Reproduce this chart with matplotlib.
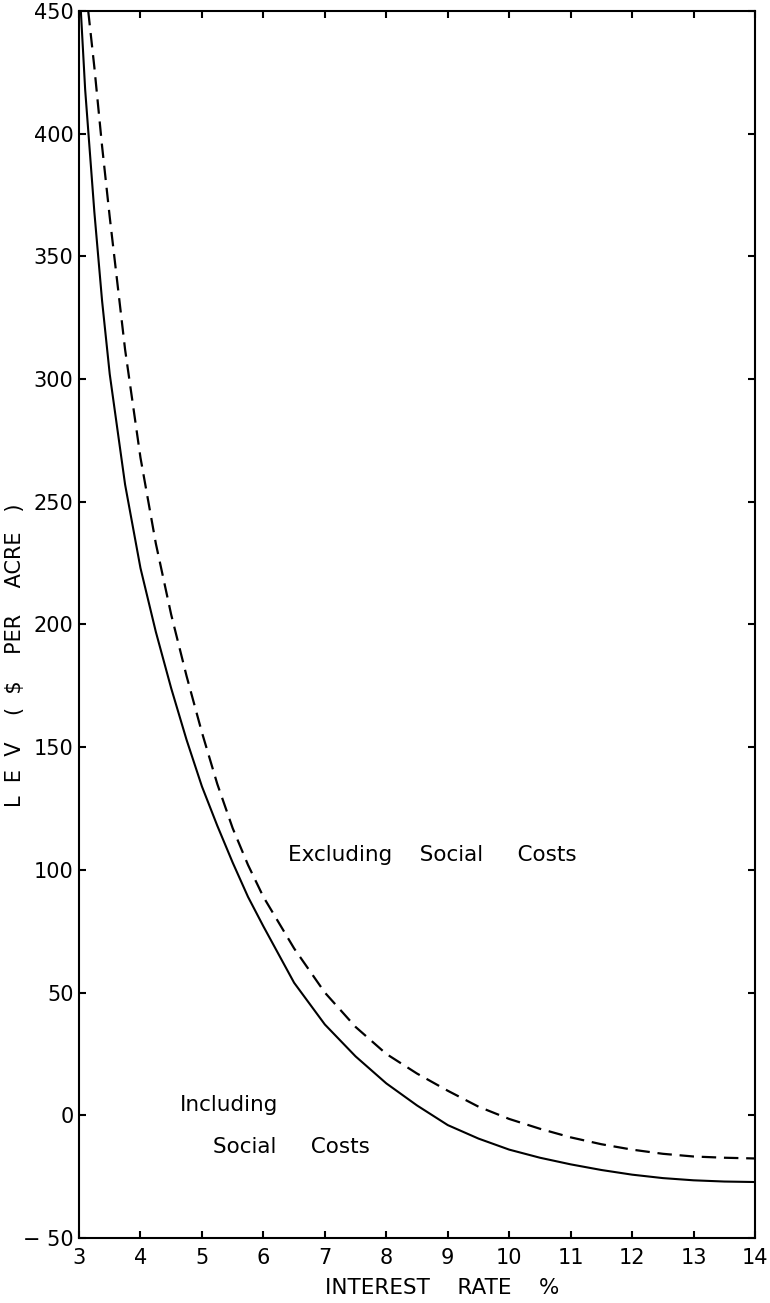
import matplotlib
matplotlib.use("Agg")
import matplotlib.pyplot as plt

plt.rcParams['font.family'] = ['DejaVu Sans']

# interest rate (%) vs land expectation value ($ per acre)
rate_incl = [3.03, 3.1, 3.25, 3.375, 3.5, 3.75, 4.0, 4.25, 4.5, 4.75, 5.0,
             5.25, 5.5, 5.75, 6.0, 6.5, 7.0, 7.5, 8.0, 8.5, 9.0, 9.5, 10.0,
             10.5, 11.0, 11.5, 12.0, 12.5, 13.0, 13.5, 14.0]
lev_incl = [450, 418, 368, 332, 302, 257, 223, 197, 174, 153, 134,
            118, 103, 89, 77, 54, 37, 24, 13, 4, -4, -9.5, -14,
            -17.3, -20, -22.3, -24.2, -25.6, -26.5, -27, -27.2]

rate_excl = [3.15, 3.25, 3.375, 3.5, 3.75, 4.0, 4.25, 4.5, 4.75, 5.0, 5.25,
             5.5, 5.75, 6.0, 6.5, 7.0, 7.5, 8.0, 8.5, 9.0, 9.5, 10.0, 10.5,
             11.0, 11.5, 12.0, 12.5, 13.0, 13.5, 14.0]
lev_excl = [450, 427, 395, 366, 312, 268, 233, 204, 179, 156, 135,
            117, 102, 89, 68, 50, 36, 25, 17, 10, 3.5, -1.5, -5.5,
            -9, -11.8, -14, -15.7, -16.8, -17.3, -17.6]

x_ticks = list(range(3, 15))
y_ticks = list(range(-50, 451, 50))
y_tick_labels = ["\u2212 50"] + [str(v) for v in y_ticks[1:]]

fig = plt.figure(figsize=(7.7, 13.03), dpi=100)
ax = fig.add_axes([0.1026, 0.0499, 0.878, 0.9417])

ax.plot(rate_incl, lev_incl, color="black", lw=1.5)
ax.plot(rate_excl, lev_excl, color="black", lw=1.6, dashes=(6.5, 3.5))

ax.set_xlim(3, 14)
ax.set_ylim(-50, 450)
ax.set_xticks(x_ticks)
ax.set_yticks(y_ticks)
ax.set_yticklabels(y_tick_labels)
ax.tick_params(direction="in", length=5, width=1.5, labelsize=15,
               top=True, right=True)
ax.tick_params(axis="x", pad=7)
ax.tick_params(axis="y", pad=4)
for sp in ax.spines.values():
    sp.set_linewidth(1.5)

ax.set_xlabel("INTEREST    RATE    %", fontsize=15.5)
ax.xaxis.set_label_coords(0.537, -0.033)
ax.set_ylabel("L  E  V    (  $    PER    ACRE   )", fontsize=15)
ax.yaxis.set_label_coords(-0.08, 0.475)

ax.text(6.4, 106, "Excluding    Social     Costs", fontsize=15.5, va="center")
ax.text(4.64, 4, "Including", fontsize=15.5, va="center")
ax.text(5.18, -13, "Social     Costs", fontsize=15.5, va="center")

fig.savefig("out.png", dpi=100)
